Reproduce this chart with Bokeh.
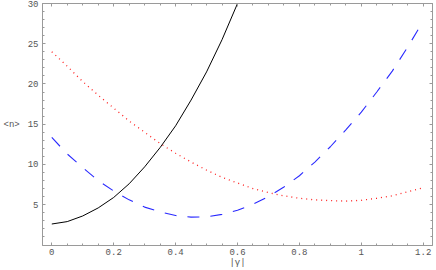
from bokeh.plotting import figure
from bokeh.models import LinearAxis, Range1d, FixedTicker, CustomJSTickFormatter
from bokeh.embed import file_html
from bokeh.resources import INLINE

gamma = [0.0, 0.05, 0.1, 0.15, 0.2, 0.25, 0.3, 0.35, 0.4, 0.45, 0.5, 0.55, 0.6,
         0.65, 0.7, 0.75, 0.8, 0.85, 0.9, 0.95, 1.0, 1.05, 1.1, 1.15, 1.2]

gamma_black = [0.0, 0.05, 0.1, 0.15, 0.2, 0.25, 0.3, 0.35, 0.4, 0.45, 0.5, 0.55, 0.6]
n_black = [2.6, 2.9, 3.6, 4.6, 5.9, 7.6, 9.7, 12.1, 14.8, 18.0, 21.5, 25.5, 30.0]

n_red = [24.0, 22.2, 20.3, 18.6, 17.0, 15.4, 14.0, 12.6, 11.4, 10.3, 9.3, 8.4, 7.7,
         7.0, 6.5, 6.1, 5.8, 5.6, 5.5, 5.45, 5.55, 5.8, 6.1, 6.6, 7.1]

n_blue = [13.35, 11.3, 9.6, 8.0, 6.7, 5.6, 4.7, 4.1, 3.65, 3.45, 3.5, 3.8, 4.3,
          5.05, 6.0, 7.2, 8.6, 10.3, 12.2, 14.3, 16.5, 19.0, 21.6, 24.6, 27.8]

x_ticks = [0, 0.2, 0.4, 0.6, 0.8, 1.0, 1.2]
x_tick_labels = {0: "0", 0.2: "0.2", 0.4: "0.4", 0.6: "0.6", 0.8: "0.8", 1: "1", 1.2: "1.2"}
x_minor = [round(0.05 * i, 2) for i in range(0, 25)]
y_ticks = [5, 10, 15, 20, 25, 30]
y_minor = list(range(1, 31))

FONT = "Liberation Mono"
FRAME = "#9a9a9a"
LABEL = "#555555"

p = figure(width=436, height=270, output_backend="svg", toolbar_location=None,
           x_range=Range1d(-0.03, 1.23), y_range=Range1d(-0.07, 30),
           min_border_left=0, min_border_right=4, min_border_top=3, min_border_bottom=0)
p.xgrid.visible = False
p.ygrid.visible = False
p.outline_line_color = FRAME
p.background_fill_color = "white"
p.border_fill_color = "white"

p.line(gamma, n_red, line_color="#ff2020", line_width=1.3, line_dash="1 4")
p.line(gamma, n_blue, line_color="#2a2aff", line_width=1.1, line_dash="12 11")
p.line(gamma_black, n_black, line_color="black", line_width=1.0)

def style(ax, ticks, minor):
    ax.ticker = FixedTicker(ticks=ticks, minor_ticks=minor)
    ax.axis_line_color = FRAME
    ax.major_tick_line_color = FRAME
    ax.minor_tick_line_color = FRAME
    ax.major_tick_in = 3
    ax.major_tick_out = 0
    ax.minor_tick_in = 2
    ax.minor_tick_out = 0
    ax.major_label_text_font = FONT
    ax.major_label_text_font_size = "9px"
    ax.major_label_text_color = LABEL
    ax.axis_label_text_font = FONT
    ax.axis_label_text_font_size = "9px"
    ax.axis_label_text_color = LABEL
    ax.axis_label_text_font_style = "normal"

xa = p.xaxis[0]
style(xa, x_ticks, x_minor)
xa.major_label_overrides = x_tick_labels
xa.major_label_standoff = 3
xa.axis_label = "|γ|"
xa.axis_label_standoff = 0

ya = p.yaxis[0]
style(ya, y_ticks, y_minor)
ya.major_label_standoff = 4
ya.axis_label = "<n>"
ya.axis_label_orientation = "horizontal"
ya.axis_label_standoff = 5

blank = CustomJSTickFormatter(code="return ''")
top = LinearAxis(formatter=blank)
style(top, x_ticks, x_minor)
top.major_label_standoff = 0
p.add_layout(top, "above")
right = LinearAxis(formatter=blank)
style(right, y_ticks, y_minor)
right.major_label_standoff = 0
p.add_layout(right, "right")

open("out.html", "w").write(file_html(p, INLINE))
